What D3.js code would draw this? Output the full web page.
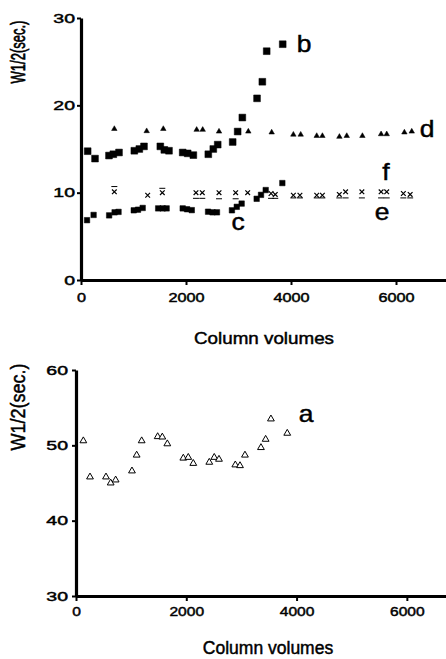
<!DOCTYPE html>
<html>
<head>
<meta charset="utf-8">
<script src="https://cdn.jsdelivr.net/npm/d3@7/dist/d3.min.js"></script>
<style>
  body { margin: 0; background: #fff; }
  text { font-family: "Liberation Sans", Arial, sans-serif; fill: #000; stroke: #000; stroke-width: 0.45px; }
</style>
</head>
<body>
<svg id="chart" width="446" height="659"></svg>
<script>
// --- data (x = column volumes, y = W1/2 in sec.)
var xTicks = [0, 2000, 4000, 6000];
var topYTicks = [0, 10, 20, 30];
var botYTicks = [30, 40, 50, 60];

var bX = [127, 267, 533, 616, 724, 1016, 1111, 1200, 1511, 1587, 1676, 1937, 2032, 2140, 2425, 2520, 2604, 2889, 2984, 3073, 3353, 3454, 3537, 3842];
var bY = [14.75, 13.9, 14.25, 14.4, 14.6, 14.8, 15.0, 15.3, 15.3, 14.9, 14.8, 14.6, 14.5, 14.3, 14.4, 15.0, 15.5, 15.8, 17.0, 18.6, 20.8, 22.7, 26.2, 27.0];

var cX = [115, 240, 536, 640, 715, 1005, 1086, 1175, 1470, 1556, 1631, 1937, 2020, 2110, 2420, 2505, 2590, 2875, 2967, 3060, 3346, 3429, 3518, 3835];
var cY = [6.85, 7.45, 7.4, 7.75, 7.8, 7.98, 8.05, 8.25, 8.2, 8.2, 8.2, 8.2, 8.1, 8.0, 7.82, 7.75, 7.75, 7.98, 8.38, 8.75, 9.3, 9.75, 10.3, 11.1];

var dX = [635, 1251, 1568, 2203, 2318, 2629, 3187, 3632, 4045, 4185, 4490, 4598, 4922, 5062, 5360, 5716, 5823, 6160, 6300];
var dY = [17.3, 17.05, 17.3, 17.2, 17.2, 17.0, 17.0, 16.9, 16.65, 16.65, 16.5, 16.5, 16.4, 16.5, 16.5, 16.7, 16.7, 16.9, 17.0];

var fX = [635, 1270, 1549, 2190, 2310, 2629, 2946, 3175, 3620, 3700, 4045, 4170, 4490, 4598, 4920, 5040, 5350, 5716, 5823, 6140, 6270];
var fY = [10.1, 9.7, 10.0, 10.0, 10.0, 10.0, 10.0, 10.0, 9.9, 9.8, 9.7, 9.7, 9.7, 9.7, 9.8, 10.1, 10.1, 10.1, 10.1, 9.9, 9.8];

var eX = [635, 1549, 2190, 2310, 2629, 2946, 3620, 3700, 4045, 4170, 4490, 4598, 4920, 5040, 5350, 5716, 5823, 6140, 6270];
var eY = [10.7, 10.5, 9.35, 9.35, 9.3, 9.3, 9.35, 9.35, 9.4, 9.4, 9.4, 9.4, 9.4, 9.4, 9.4, 9.4, 9.4, 9.4, 9.4];

var aX = [133, 254, 544, 629, 719, 1015, 1100, 1191, 1481, 1565, 1656, 1946, 2036, 2127, 2417, 2507, 2593, 2889, 2974, 3064, 3354, 3439, 3535, 3831];
var aY = [50.6, 45.8, 45.8, 45.0, 45.4, 46.6, 48.7, 50.6, 51.15, 51.1, 50.2, 48.3, 48.4, 47.6, 47.75, 48.4, 48.15, 47.4, 47.3, 48.7, 49.7, 50.8, 53.5, 51.6];

function pts(xs, ys) {
    return xs.map(function(x, i) { return { x: x, y: ys[i] }; });
}

var svg = d3.select("#chart");

// text helper, the scan is stretched sideways so glyphs get a scaleX
function label(x, y, s, size, sx, rot) {
    var tr = "translate(" + x + "," + y + ") scale(" + sx + ",1)" + (rot ? " rotate(-90)" : "");
    return svg.append("text")
        .attr("transform", tr)
        .attr("text-anchor", "middle")
        .style("font-size", size + "px")
        .text(s);
}

function drawAxes(g, x, y, yTicks, o) {
    var xa = g.append("g")
        .attr("transform", "translate(0," + y.range()[0] + ")")
        .call(d3.axisBottom(x).tickValues(xTicks).tickFormat(d3.format("d")).tickSize(5).tickSizeOuter(0));
    xa.selectAll("text")
        .attr("y", o.xLabY).attr("dy", null)
        .attr("transform", "scale(" + o.xsx + ",1)")
        .style("font-size", o.xFont + "px");

    var ya = g.append("g")
        .attr("transform", "translate(" + x.range()[0] + ",0)")
        .call(d3.axisLeft(y).tickValues(yTicks).tickFormat(d3.format("d")).tickSize(4).tickSizeOuter(0));
    ya.selectAll("text")
        .attr("x", -o.yGap / o.ysx)
        .attr("transform", "scale(" + o.ysx + ",1)")
        .style("font-size", o.yFont + "px");

    g.selectAll(".domain").attr("stroke", "#000").attr("stroke-width", 3.2);
    g.selectAll(".tick line").attr("stroke", "#000").attr("stroke-width", 2);
}

function sym(g, data, type, size, x, y, filled) {
    g.selectAll(null).data(data).enter().append("path")
        .attr("transform", function(d) { return "translate(" + x(d.x) + "," + y(d.y) + ")"; })
        .attr("d", d3.symbol().type(type).size(size))
        .attr("fill", filled ? "#000" : "#fff")
        .attr("stroke", "#000")
        .attr("stroke-width", filled ? 0.5 : 1);
}

// ---------- top panel ----------
var x1 = d3.scaleLinear().domain([0, 7000]).range([81, 448.5]);
var y1 = d3.scaleLinear().domain([0, 30]).range([280, 18]);
var topG = svg.append("g");
drawAxes(topG, x1, y1, topYTicks, { xLabY: 22, xsx: 1.3, xFont: 12.5, yGap: 6, ysx: 1.5, yFont: 13 });

sym(topG, pts(bX, bY), d3.symbolSquare, 46, x1, y1, true);
sym(topG, pts(cX, cY), d3.symbolSquare, 30, x1, y1, true);
sym(topG, pts(dX, dY), d3.symbolTriangle, 13, x1, y1, true);

topG.selectAll(null).data(pts(fX, fY)).enter().append("path")
    .attr("transform", function(d) { return "translate(" + x1(d.x) + "," + y1(d.y) + ")"; })
    .attr("d", d3.symbol().type(d3.symbolTimes).size(16))
    .attr("fill", "none").attr("stroke", "#000").attr("stroke-width", 1.2);

topG.selectAll(null).data(pts(eX, eY)).enter().append("line")
    .attr("x1", function(d) { return x1(d.x) - 3; })
    .attr("x2", function(d) { return x1(d.x) + 3; })
    .attr("y1", function(d) { return y1(d.y); })
    .attr("y2", function(d) { return y1(d.y); })
    .attr("stroke", "#000").attr("stroke-width", 1);

label(25, 52, "W1/2(sec.)", 13, 1.5, true);
label(264, 344, "Column volumes", 16.5, 1.14);
label(304, 52, "b", 23, 1.15);
label(427, 137, "d", 23, 1.15);
label(238, 230, "c", 23, 1.15);
label(386, 180, "f", 23, 1.15);
label(382, 220, "e", 23, 1.15);

// ---------- bottom panel ----------
var x2 = d3.scaleLinear().domain([0, 7000]).range([76, 462]);
var y2 = d3.scaleLinear().domain([30, 60]).range([596, 370]);
var botG = svg.append("g");
drawAxes(botG, x2, y2, botYTicks, { xLabY: 20, xsx: 1.2, xFont: 13, yGap: 8, ysx: 1.5, yFont: 13 });

sym(botG, pts(aX, aY), d3.symbolTriangle, 20, x2, y2, false);

label(25, 407, "W1/2(sec.)", 18, 1.1, true);
label(268, 654, "Column volumes", 17.5, 1.0);
label(306, 422, "a", 23, 1.15);
</script>
</body>
</html>
